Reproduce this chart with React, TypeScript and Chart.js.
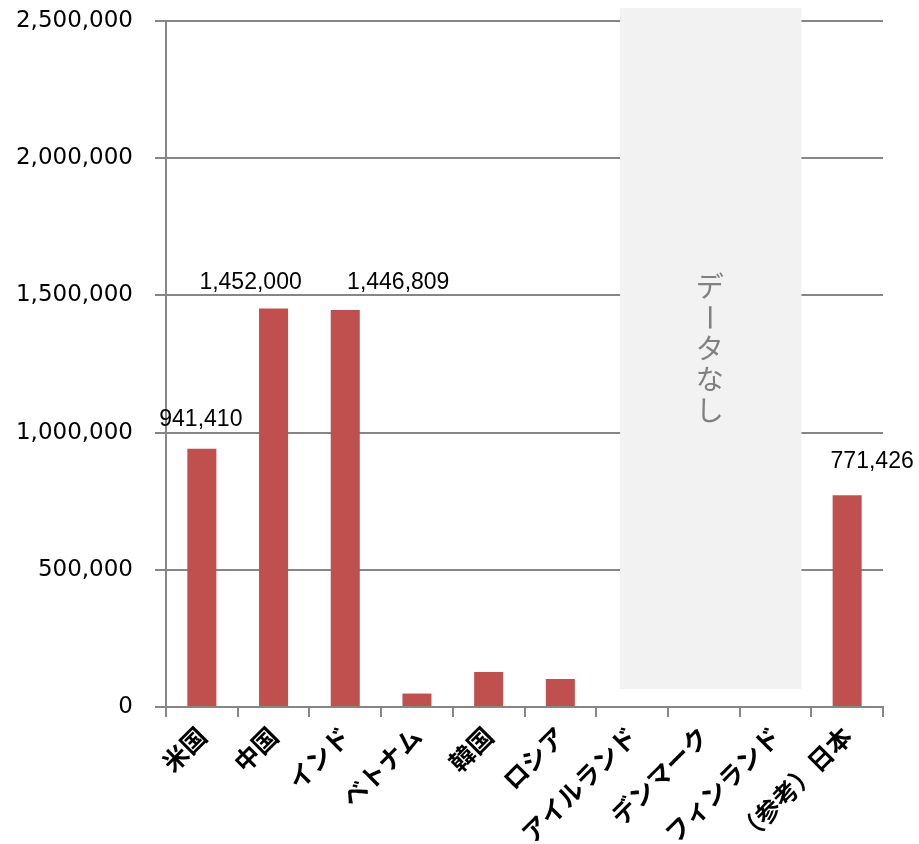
import React, { useEffect, useRef } from 'react';
import { Chart, registerables } from 'chart.js';

Chart.register(...registerables);

const categories = ['米国', '中国', 'インド', 'ベトナム', '韓国', 'ロシア', 'アイルランド', 'デンマーク', 'フィンランド', '（参考）日本'];
const values: (number | null)[] = [941410, 1452000, 1446809, 49000, 128000, 102000, null, null, null, 771426];
const labeledBars = [true, true, true, false, false, false, false, false, false, true];
const yTickValues = [0, 500000, 1000000, 1500000, 2000000, 2500000];
const noDataText = 'データなし';
const noDataFrom = 6;
const noDataTo = 8;

const BAR_COLOR = '#C0504D';
const GRID_COLOR = '#868686';

const fmt = (v: number) => v.toLocaleString('en-US');

const noDataPlugin = {
  id: 'noDataBox',
  beforeDatasetsDraw(chart: any) {
    const { ctx, scales, chartArea } = chart;
    const x = scales.x;
    const y = scales.y;
    const left = x.getPixelForValue(noDataFrom) - 12;
    const right = x.getPixelForValue(noDataTo) + 26;
    const top = chartArea.top - 13;
    const bottom = y.getPixelForValue(0) - 18;
    ctx.save();
    ctx.fillStyle = '#F2F2F2';
    ctx.fillRect(left, top, right - left, bottom - top);
    ctx.fillStyle = '#808080';
    ctx.font = '28px "Noto Sans CJK JP"';
    ctx.textAlign = 'center';
    ctx.textBaseline = 'middle';
    const cx = (left + right) / 2 - 1;
    const cy = (top + bottom) / 2;
    const pitch = 31;
    const chars = Array.from(noDataText);
    chars.forEach((ch, i) => {
      const yy = cy + (i - (chars.length - 1) / 2) * pitch;
      if (ch === 'ー') {
        ctx.save();
        ctx.translate(cx, yy);
        ctx.rotate(Math.PI / 2);
        ctx.fillText(ch, 0, 0);
        ctx.restore();
      } else {
        ctx.fillText(ch, cx, yy);
      }
    });
    ctx.restore();
  },
};

const labelOffsets: Record<number, [number, number]> = {
  0: [-1, -23],
  1: [-23, -20],
  2: [53, -21],
  9: [25, -27],
};

const valueLabelPlugin = {
  id: 'valueLabels',
  afterDatasetsDraw(chart: any) {
    const { ctx } = chart;
    const meta = chart.getDatasetMeta(0);
    ctx.save();
    ctx.fillStyle = '#000000';
    ctx.font = '23px "Liberation Sans", Arial, sans-serif';
    ctx.textAlign = 'center';
    ctx.textBaseline = 'alphabetic';
    meta.data.forEach((bar: any, i: number) => {
      const v = values[i];
      if (!labeledBars[i] || v == null) return;
      const off = labelOffsets[i] || [0, -20];
      ctx.fillText(fmt(v), bar.x + off[0], bar.y + off[1]);
    });
    ctx.restore();
  },
};

export default function App() {
  const canvasRef = useRef<HTMLCanvasElement | null>(null);

  useEffect(() => {
    if (!canvasRef.current) return;
    const chart = new Chart(canvasRef.current, {
      type: 'bar',
      data: {
        labels: categories,
        datasets: [
          {
            data: values as any,
            backgroundColor: BAR_COLOR,
            borderWidth: 0,
            categoryPercentage: 1,
            barPercentage: 0.405,
          },
        ],
      },
      options: {
        responsive: false,
        animation: false,
        devicePixelRatio: 1,
        layout: { padding: { top: 21, right: 36, left: 0, bottom: 0 } },
        plugins: {
          legend: { display: false },
          tooltip: { enabled: false },
        },
        scales: {
          x: {
            offset: true,
            grid: {
              display: true,
              drawOnChartArea: false,
              drawTicks: true,
              tickLength: 10,
              color: GRID_COLOR,
              lineWidth: 2,
              offset: true,
            },
            border: { display: true, color: GRID_COLOR, width: 2 },
            ticks: {
              autoSkip: false,
              minRotation: 45,
              maxRotation: 45,
              padding: 4,
              color: '#000000',
              font: { family: '"Noto Sans CJK JP"', size: 25, weight: 'bold' },
            },
            afterFit(scale: any) {
              scale.height = 137;
              scale.paddingLeft = 0;
              scale.paddingRight = 0;
            },
          },
          y: {
            min: 0,
            max: 2500000,
            afterBuildTicks(scale: any) {
              scale.ticks = yTickValues.map((v) => ({ value: v }));
            },
            grid: {
              color: GRID_COLOR,
              lineWidth: 2,
              drawTicks: true,
              tickLength: 11,
            },
            border: { display: true, color: GRID_COLOR, width: 2 },
            ticks: {
              padding: 22,
              color: '#000000',
              font: { family: '"DejaVu Sans"', size: 23 },
              callback: (v: any) => fmt(Number(v)),
            },
            afterFit(scale: any) {
              scale.width = 166;
              scale.paddingTop = 0;
              scale.paddingBottom = 0;
            },
          },
        },
      },
      plugins: [noDataPlugin, valueLabelPlugin],
    });
    return () => chart.destroy();
  }, []);

  return (
    <div style={{ position: 'fixed', left: 0, top: 0, width: 919, height: 844, background: '#ffffff' }}>
      <canvas ref={canvasRef} width={919} height={844} style={{ display: 'block' }} />
    </div>
  );
}
